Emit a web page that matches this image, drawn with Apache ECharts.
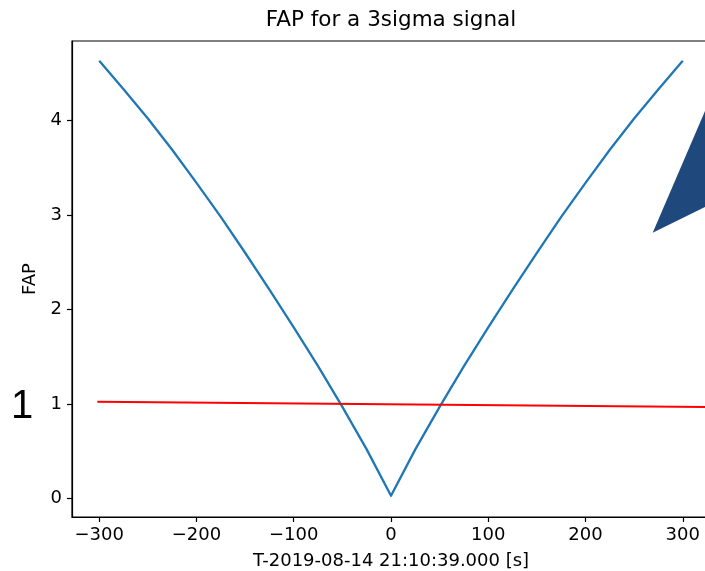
<!DOCTYPE html>
<html>
<head>
<meta charset="utf-8">
<script src="https://cdn.jsdelivr.net/npm/echarts@6/dist/echarts.min.js"></script>
<style>
html,body{margin:0;padding:0;background:#fff;}
#chart{width:705px;height:571px;}
</style>
</head>
<body>
<div id="chart"></div>
<script>
// ---- data ----
const times = [-300,-275,-250,-225,-200,-175,-150,-125,-100,-75,-50,-25,0,25,50,75,100,125,150,175,200,225,250,275,300];
const fapValues = [4.63,4.33,4.02,3.69,3.34,2.98,2.60,2.21,1.81,1.40,0.97,0.52,0.03,0.52,0.97,1.40,1.81,2.21,2.60,2.98,3.34,3.69,4.02,4.33,4.63];
const thresholdTimes = [-302, 330];
const thresholdValues = [1.025, 0.968];
const xTicks = [-300,-200,-100,0,100,200,300];
const yTicks = [0,1,2,3,4];
const titleText = 'FAP for a 3sigma signal';
const xName = 'T-2019-08-14 21:10:39.000 [s]';
const yName = 'FAP';
const sideNote = '1';

const fapData = times.map((t,i)=>[t, fapValues[i]]);
const thrData = thresholdTimes.map((t,i)=>[t, thresholdValues[i]]);

const chart = echarts.init(document.getElementById('chart'), null, {renderer:'canvas'});
const FONT = 'DejaVu Sans';
const minus = v => String(v).replace('-', '\u2212');

chart.setOption({
  animation:false,
  backgroundColor:'#ffffff',
  grid:{left:72, top:41, right:-5, bottom:54, show:true, borderColor:'#000', borderWidth:1.2, outerBoundsMode:'none', containLabel:false},
  xAxis:{
    type:'value', min:-328, max:328,
    name:xName, nameLocation:'middle', nameGap:35,
    nameTextStyle:{fontFamily:FONT, fontSize:18, color:'#000'},
    axisLine:{show:true, onZero:false, lineStyle:{color:'#000', width:1.2}},
    axisTick:{show:true, length:5, inside:false, customValues:xTicks, lineStyle:{color:'#000', width:1.2}},
    axisLabel:{show:true, margin:9, customValues:xTicks, formatter:v=>minus(v), fontFamily:FONT, fontSize:18, color:'#000'},
    splitLine:{show:false}
  },
  yAxis:{
    type:'value', min:-0.195, max:4.84,
    name:yName, nameLocation:'middle', nameGap:33, nameRotate:90,
    nameTextStyle:{fontFamily:FONT, fontSize:18, color:'#000'},
    axisLine:{show:true, onZero:false, lineStyle:{color:'#000', width:1.2}},
    axisTick:{show:true, length:5, inside:false, customValues:yTicks, lineStyle:{color:'#000', width:1.2}},
    axisLabel:{show:true, margin:10, customValues:yTicks, formatter:v=>minus(v), fontFamily:FONT, fontSize:18, color:'#000'},
    splitLine:{show:false}
  },
  series:[
    {type:'line', data:fapData, showSymbol:false, symbol:'none', clip:true,
     lineStyle:{color:'#1f77b4', width:2.3, join:'round'}, z:3},
    {type:'line', data:thrData, showSymbol:false, symbol:'none', clip:true,
     lineStyle:{color:'#ff0000', width:2}, z:4}
  ],
  graphic:[
    {type:'text', x:391, y:20, style:{text:titleText, fontFamily:FONT, fontSize:21.5, fill:'#000', align:'center', verticalAlign:'middle'}},
    {type:'text', x:22, y:407, style:{text:sideNote, fontFamily:'Liberation Sans', fontSize:40, fill:'#000', align:'center', verticalAlign:'middle'}},
    {type:'polygon', shape:{points:[[652.7,232.7],[708,104],[708,205.5]]}, style:{fill:'#1f497d'}, z:10}
  ]
});
</script>
</body>
</html>
